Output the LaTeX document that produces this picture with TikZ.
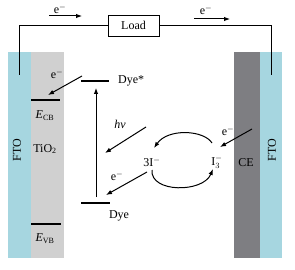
\documentclass[tikz,border=0pt]{standalone}
\usepackage{fontspec}
\setmainfont{Liberation Serif}
\usepackage{tikz}
\usetikzlibrary{arrows.meta,positioning}
\definecolor{ftoBlue}{HTML}{A6D6E0}
\definecolor{tioGray}{HTML}{D0D0D0}
\definecolor{ceGray}{HTML}{7E7E82}

\begin{document}
\begin{tikzpicture}[
  x=1pt, y=1pt,
  lbl/.style={font=\fontsize{12}{14}\selectfont, inner sep=1pt},
  arr/.style={-{Latex[length=6pt,width=4.5pt]}, line width=1pt},
  lvl/.style={line width=1.2pt},
  wire/.style={line width=0.9pt}
]
  \useasboundingbox (0,0) rectangle (295,-270);

  % electrodes
  \fill[ftoBlue] (8,-52) rectangle (31,-258);
  \fill[tioGray] (31,-52) rectangle (64,-258);
  \fill[ceGray] (234,-52) rectangle (260,-258);
  \fill[ftoBlue] (260,-52) rectangle (282,-258);

  \node[lbl, rotate=90] (ftoL) at (17,-150) {FTO};
  \node[lbl, rotate=90] (ftoR) at (272,-150) {FTO};
  \node[lbl] (tio) at (45,-149) {TiO\textsubscript{2}};
  \node[lbl] (ce) at (246,-163) {CE};

  % external circuit
  \node[draw, lbl, wire, minimum width=51pt, minimum height=21pt] (load) at (133.5,-25.5) {Load};
  \coordinate (wl) at (19,-75);
  \coordinate (wr) at (271,-75);
  \draw[wire] (wl) |- (load.west);
  \draw[wire] (load.east) -| (wr);

  \coordinate (eTLa) at (49,-16);
  \coordinate (eTLb) at (82,-16);
  \draw[arr] (eTLa) -- (eTLb);
  \node[lbl] (eTL) at (60,-9) {e$^-$};
  \coordinate (eTRa) at (194,-19);
  \coordinate (eTRb) at (230,-19);
  \draw[arr] (eTRa) -- (eTRb);
  \node[lbl] (eTR) at (206,-10) {e$^-$};

  % energy levels
  \coordinate (cbL) at (31,-100);
  \coordinate (cbR) at (60,-100);
  \draw[lvl] (cbL) -- (cbR);
  \node[lbl] (ecb) at (45,-116) {\textit{E}\textsubscript{CB}};
  \coordinate (vbL) at (31,-224);
  \coordinate (vbR) at (61,-224);
  \draw[lvl] (vbL) -- (vbR);
  \node[lbl] (evb) at (45,-239) {\textit{E}\textsubscript{VB}};

  \coordinate (dsL) at (81,-81);
  \coordinate (dsR) at (109,-81);
  \draw[lvl] (dsL) -- (dsR);
  \node[lbl, anchor=west] (dyes) at (117,-81) {Dye*};
  \coordinate (dL) at (81,-203);
  \coordinate (dR) at (110,-203);
  \draw[lvl] (dL) -- (dR);
  \node[lbl] (dye) at (119,-216) {Dye};

  % transitions
  \coordinate (inj) at (82,-76);
  \coordinate (injT) at (48,-95);
  \draw[arr] (inj) -- (injT);
  \node[lbl] (eInj) at (57,-74) {e$^-$};
  \coordinate (exA) at (96,-197);
  \coordinate (exB) at (96,-88);
  \draw[arr] (exA) -- (exB);
  \coordinate (hvA) at (146,-127);
  \coordinate (hvB) at (105,-153);
  \draw[arr] (hvA) -- (hvB);
  \node[lbl] (hv) at (120,-124) {\textit{hν}};
  \coordinate (rgA) at (147,-172);
  \coordinate (rgB) at (106,-195);
  \draw[arr] (rgA) -- (rgB);
  \node[lbl] (eRg) at (117,-176) {e$^-$};

  % redox couple
  \node[lbl] (iod) at (152,-162) {3I$^-$};
  \node[lbl] (tri) at (217,-162) {I$_3^-$};
  \coordinate (ceA) at (252,-129);
  \coordinate (ceB) at (220,-147);
  \draw[arr] (ceA) -- (ceB);
  \node[lbl] (eCe) at (228,-131) {e$^-$};
  \coordinate (arcA) at (212,-143);
  \coordinate (arcB) at (154,-148);
  \draw[arr] (arcA) .. controls (204,-130) and (168,-128) .. (arcB);
  \coordinate (arcC) at (152,-170);
  \coordinate (arcD) at (213,-169);
  \draw[arr] (arcC) .. controls (150,-193) and (203,-193) .. (arcD);
\end{tikzpicture}
\end{document}
